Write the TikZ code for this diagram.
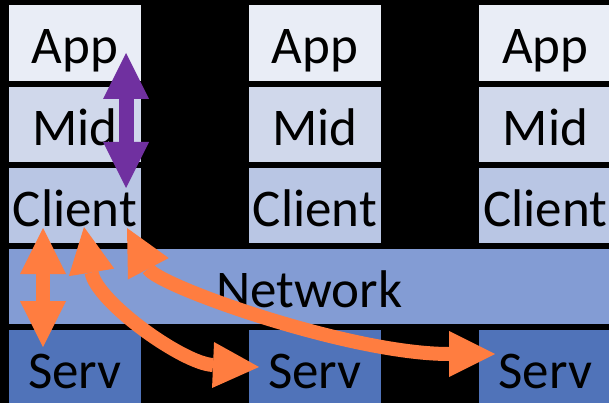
\documentclass[tikz,border=0pt]{standalone}
\usepackage{fontspec}
\setmainfont{Carlito}
\usetikzlibrary{arrows.meta}
\definecolor{appc}{RGB}{233,237,246}
\definecolor{midc}{RGB}{208,216,235}
\definecolor{clic}{RGB}{185,198,228}
\definecolor{netc}{RGB}{131,156,212}
\definecolor{servc}{RGB}{80,115,185}
\definecolor{purplec}{RGB}{112,48,160}
\definecolor{orangec}{RGB}{255,125,64}
\begin{document}
\begin{tikzpicture}[x=1pt,y=-1pt,
  layer/.style={rectangle,inner sep=0pt,minimum height=75.5pt,anchor=north west,
    text height=42pt,text depth=0pt,font=\fontsize{53}{60}\selectfont},
  col/.style={layer,minimum width=132.5pt},
  dbl/.style={line width=14pt,draw=orangec,
    {Triangle[length=46pt,width=46pt,line width=0pt]}-{Triangle[length=46pt,width=46pt,line width=0pt]}},
]
\fill[black] (0,0) rectangle (609,403);
\useasboundingbox (0,0) rectangle (609,403);
% column 1
\node[col,fill=appc] (app1) at (8.5,5) {App};
\node[col,fill=midc] (mid1) at (8.5,86.5) {Mid};
\node[col,fill=clic] (cli1) at (8.5,167.5) {Client};
% column 2
\node[col,fill=appc] (app2) at (248.5,5) {App};
\node[col,fill=midc] (mid2) at (248.5,86.5) {Mid};
\node[col,fill=clic] (cli2) at (248.5,167.5) {Client};
% column 3
\node[col,fill=appc] (app3) at (479,5) {App};
\node[col,fill=midc] (mid3) at (479,86.5) {Mid};
\node[col,fill=clic] (cli3) at (479,167.5) {Client};
% network
\node[layer,fill=netc,minimum width=601pt] (net) at (8.5,248.5) {Network};
% servers
\node[col,fill=servc] (serv1) at (8.5,329.5) {Serv};
\node[col,fill=servc] (serv2) at (248.5,329.5) {Serv};
\node[col,fill=servc] (serv3) at (479,329.5) {Serv};
% arrows
\coordinate (pu1) at (126,53);
\coordinate (pu2) at (126,188);
\draw[dbl,draw=purplec,line width=15pt] (pu1) -- (pu2);
\coordinate (o1a) at (43,228);
\coordinate (o1b) at (43,347);
\draw[dbl] (o1a) -- (o1b);
\coordinate (o2a) at (84,227);
\coordinate (o2b) at (259,367);
\draw[dbl] (o2a) .. controls (96.4,301.6) and (183,363.7) .. (o2b);
\coordinate (o3a) at (127,228);
\coordinate (o3b) at (495,354);
\draw[dbl] (o3a) .. controls (157.2,285.6) and (349,354) .. (o3b);
\end{tikzpicture}
\end{document}
